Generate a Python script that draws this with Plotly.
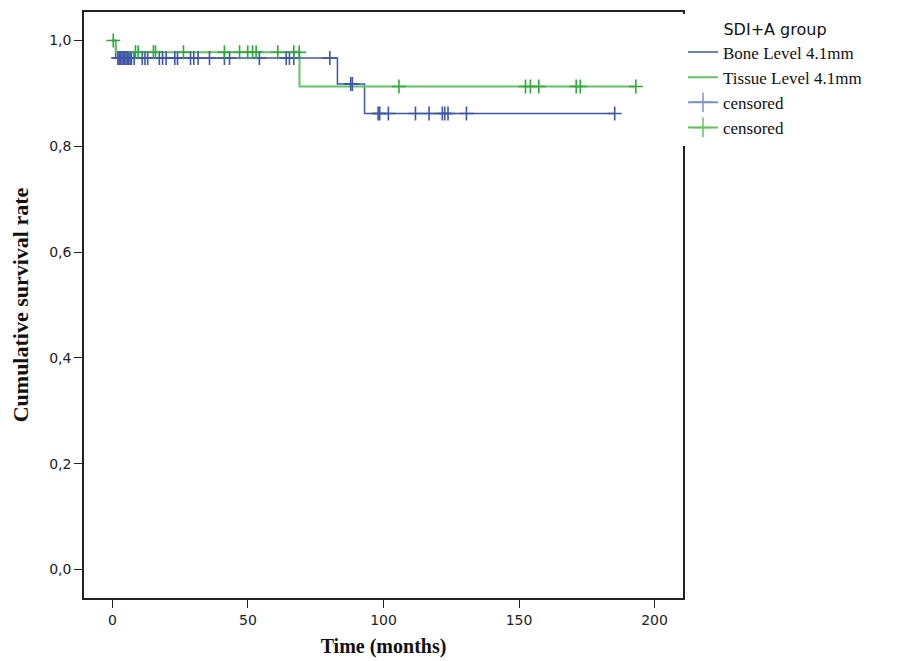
import plotly.graph_objects as go

# Step curves (event times, survival)
bone_t = [0, 1.2, 83, 93, 185.3]
bone_s = [1.0, 0.967, 0.918, 0.862, 0.862]
tissue_t = [0, 1.2, 69, 193.1]
tissue_s = [1.0, 0.978, 0.913, 0.913]

# Censored times
bone_cens = [2, 2.5, 3, 3.5, 4, 4.5, 5, 5.5, 6, 6.5, 7, 8, 11, 12, 13,
             17.3, 18.5, 19.8, 23, 24, 28.8, 30, 31.6, 35.8, 41.3, 43.2, 54.2,
             64.1, 65.3, 66.9, 80.2, 87.9, 88.5, 98, 98.6, 101.8, 111.8,
             116.8, 121.7, 122.6, 123.8, 130.6, 185.3]
tissue_cens = [0.3, 8.5, 9.5, 15.1, 15.9, 26.2, 41.3, 46.9, 49.9, 51.7, 53,
               61, 66.9, 68.9, 105.7, 152.4, 154.2, 157.3, 171.1, 172.6, 193.1]

x_ticks = [0, 50, 100, 150, 200]
y_ticks = [0.0, 0.2, 0.4, 0.6, 0.8, 1.0]
y_ticktext = ["0,0", "0,2", "0,4", "0,6", "0,8", "1,0"]

BLUE = "#3e56a8"
GREEN = "#62c462"
GREEN_M = "#2fa83a"


def surv_at(ts, ss, t):
    v = ss[0]
    for ti, si in zip(ts, ss):
        if ti <= t:
            v = si
    return v


fig = go.Figure()
fig.add_trace(go.Scatter(x=bone_t, y=bone_s, mode="lines", line_shape="hv",
                         line=dict(color=BLUE, width=1.5), name="Bone Level 4.1mm"))
fig.add_trace(go.Scatter(x=tissue_t, y=tissue_s, mode="lines", line_shape="hv",
                         line=dict(color=GREEN, width=2), name="Tissue Level 4.1mm"))
fig.add_trace(go.Scatter(x=bone_cens, y=[surv_at(bone_t, bone_s, t) for t in bone_cens],
                         mode="markers", showlegend=False,
                         marker=dict(symbol="cross-thin", size=10,
                                     line=dict(color=BLUE, width=1.6))))
fig.add_trace(go.Scatter(x=tissue_cens, y=[surv_at(tissue_t, tissue_s, t) for t in tissue_cens],
                         mode="markers", showlegend=False,
                         marker=dict(symbol="cross-thin", size=10,
                                     line=dict(color=GREEN_M, width=1.6))))
# legend entries for censored
fig.add_trace(go.Scatter(x=[None], y=[None], mode="lines+markers", name="censored",
                         line=dict(color="#7f92cc", width=2),
                         marker=dict(symbol="cross-thin", size=14,
                                     line=dict(color="#7f92cc", width=1.5))))
fig.add_trace(go.Scatter(x=[None], y=[None], mode="lines+markers", name="censored",
                         line=dict(color=GREEN, width=2),
                         marker=dict(symbol="cross-thin", size=14,
                                     line=dict(color=GREEN, width=1.5))))

fig.update_layout(
    width=909, height=661,
    margin=dict(l=76, r=234, t=2, b=71),
    paper_bgcolor="white", plot_bgcolor="white",
    legend=dict(x=1.0, y=0.997, xanchor="left", yanchor="top",
                font=dict(family="Liberation Serif", size=17, color="#111"),
                title=dict(text="SDI+A group", side="top center",
                           font=dict(family="DejaVu Sans", size=16, color="#111")),
                tracegroupgap=0, itemwidth=30),
)
fig.update_xaxes(range=[-10.5, 210.5], tickvals=x_ticks, showgrid=False, zeroline=False,
                 showline=True, linecolor="#222", linewidth=1.5, mirror=True,
                 ticks="outside", ticklen=8, tickcolor="#222",
                 tickfont=dict(family="DejaVu Sans", size=14, color="#222"),
                 title=dict(text="<b>Time (months)</b>", standoff=12,
                            font=dict(family="Liberation Serif", size=20, color="#111")))
fig.update_yaxes(range=[-0.054, 1.054], tickvals=y_ticks, ticktext=y_ticktext,
                 showgrid=False, zeroline=False,
                 showline=True, linecolor="#222", linewidth=1.5, mirror=True,
                 ticks="outside", ticklen=8, tickcolor="#222",
                 tickfont=dict(family="DejaVu Sans", size=14, color="#222"),
                 title=dict(text="<b>Cumulative survival rate</b>", standoff=14,
                            font=dict(family="Liberation Serif", size=22, color="#111")))

fig.write_html("out.html")
